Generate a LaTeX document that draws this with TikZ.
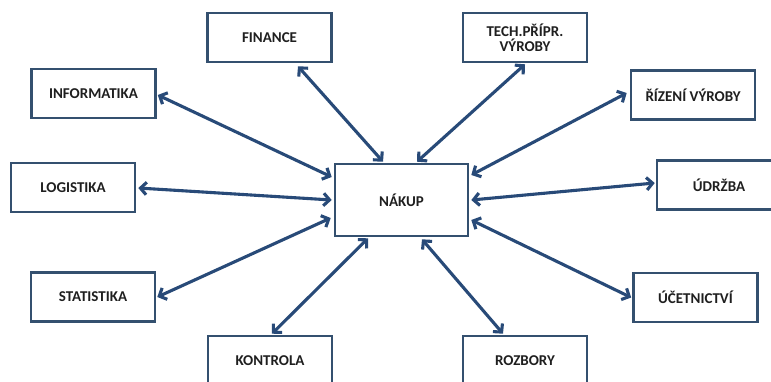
\documentclass[tikz,border=0pt]{standalone}
\usepackage{fontspec}
\setmainfont{Carlito}
\usetikzlibrary{arrows.meta,calc,shadows}
\definecolor{boxc}{HTML}{34506F}
\definecolor{arrc}{HTML}{284A78}
\begin{document}
\begin{tikzpicture}[x=1pt,y=-1pt,
 box/.style={draw=boxc, line width=2.6pt, fill=white, minimum width=124pt, minimum height=49pt, inner sep=0pt,
   font=\fontsize{15}{15.5}\selectfont\bfseries, text=black!88, align=center,
   drop shadow={opacity=0.18, shadow xshift=1.2pt, shadow yshift=-1.2pt}},
 arr/.style={draw=arrc, line width=3.1pt, {Straight Barb[length=6pt,width=12.5pt]}-{Straight Barb[length=6pt,width=12.5pt]}}]
\useasboundingbox (0,0) rectangle (771,381);
\fill[white] (0,0) rectangle (771,381);
\clip (0,0) rectangle (771,381);
\node[box] (fin) at (269.5,37.5) {FINANCE};
\node[box] (tech) at (525,37.5) {TECH.PŘÍPR.\\VÝROBY};
\node[box] (inf) at (93.5,93.5) {INFORMATIKA};
\node[box] (riz) at (693,95) {ŘÍZENÍ VÝROBY};
\node[box] (log) at (73,187.5) {LOGISTIKA};
\node[box, minimum width=133pt, minimum height=72pt] (nak) at (401.5,200) {NÁKUP};
\node[box] (udr) at (719,185) {ÚDRŽBA};
\node[box] (sta) at (93,297) {STATISTIKA};
\node[box] (uce) at (695.5,297.5) {ÚČETNICTVÍ};
\node[box] (kon) at (270,360.5) {KONTROLA};
\node[box] (roz) at (525,360.5) {ROZBORY};
\draw[arr] ($(fin.south)+(28.5,3)$) -- ($(nak.north)+(-18.5,-1)$);
\draw[arr] ($(inf.east)+(1,1.5)$) -- ($(nak.west)+(-2,-23)$);
\draw[arr] ($(log.east)+(2,0.5)$) -- ($(nak.west)+(-2,0)$);
\draw[arr] ($(sta.east)+(1,0)$) -- ($(nak.west)+(-3,18)$);
\draw[arr] ($(kon.north)+(2,-1)$) -- ($(nak.south)+(-33.5,1)$);
\draw[arr] ($(tech.south)+(0,1)$) -- ($(nak.north)+(15.5,-1)$);
\draw[arr] ($(riz.west)+(-3,-2)$) -- ($(nak.east)+(2,-25)$);
\draw[arr] ($(udr.west)+(-1,-2)$) -- ($(nak.east)+(2,0)$);
\draw[arr] ($(uce.west)+(-1,0)$) -- ($(nak.east)+(2,20)$);
\draw[arr] ($(roz.north)+(-22,-1)$) -- ($(nak.south)+(20.5,2)$);
\end{tikzpicture}
\end{document}
